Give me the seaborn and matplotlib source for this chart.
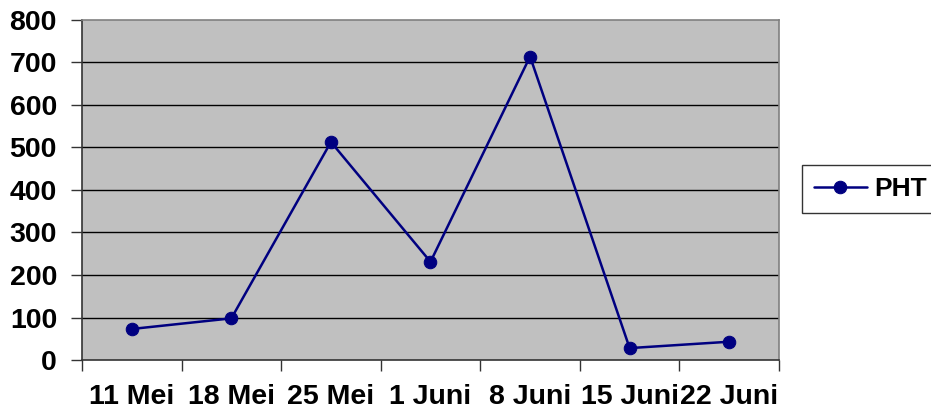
import pandas as pd
import seaborn as sns
import matplotlib.pyplot as plt

dates = ["11 Mei", "18 Mei", "25 Mei", "1 Juni", "8 Juni", "15 Juni", "22 Juni"]
pht = [73, 98, 513, 231, 714, 28, 43]
y_ticks = [0, 100, 200, 300, 400, 500, 600, 700, 800]

df = pd.DataFrame({"tanggal": dates, "PHT": pht})

sns.set_style("white")
plt.rcParams["font.family"] = ["Liberation Sans", "DejaVu Sans"]
plt.rcParams["font.weight"] = "bold"
plt.rcParams["text.color"] = "black"
plt.rcParams["xtick.color"] = "black"
plt.rcParams["ytick.color"] = "black"

fig = plt.figure(figsize=(9.31, 4.09), dpi=100)
ax = fig.add_axes([82 / 931, 1 - 360 / 409, (779 - 82) / 931, (360 - 20) / 409])
ax.set_facecolor("#C0C0C0")

sns.lineplot(data=df, x="tanggal", y="PHT", sort=False, color="#000080",
             marker="o", markersize=9, markeredgecolor="#000080",
             linewidth=1.8, label="PHT", ax=ax)

ax.set_xlim(-0.5, len(dates) - 0.5)
ax.set_ylim(0, 800)
ax.set_yticks(y_ticks)
for t in y_ticks[1:-1]:
    ax.axhline(t, color="black", linewidth=1, zorder=1)

# ticks between categories
ax.set_xticks(range(len(dates)))
ax.set_xticklabels(dates, fontsize=20.5, fontweight="bold", color="black")
ax.set_xticks([i - 0.5 for i in range(len(dates) + 1)], minor=True)
ax.tick_params(axis="x", which="major", length=0, pad=17)
ax.tick_params(axis="x", which="minor", length=8, width=1, color="#333333",
               direction="out", bottom=True)
ax.tick_params(axis="y", length=8, width=1, color="#333333", direction="out",
               left=True, pad=10, labelsize=20.5, labelcolor="black")
for lab in ax.get_yticklabels():
    lab.set_fontweight("bold")

ax.set_xlabel("")
ax.set_ylabel("")
for side in ["top", "right"]:
    ax.spines[side].set_color("#808080")
    ax.spines[side].set_linewidth(1.2)
for side in ["left", "bottom"]:
    ax.spines[side].set_color("#333333")
    ax.spines[side].set_linewidth(1.2)

leg = ax.legend(loc="upper left", bbox_to_anchor=(802 / 931, 1 - 165 / 409),
                bbox_transform=fig.transFigure, frameon=True, fancybox=False,
                prop={"size": 19, "weight": "bold"}, handlelength=2.0,
                borderpad=0.45, borderaxespad=0, handletextpad=0.3)
leg.get_frame().set_edgecolor("black")
leg.get_frame().set_linewidth(1)
for txt in leg.get_texts():
    txt.set_color("black")

fig.savefig("out.png", dpi=100, facecolor="white")
